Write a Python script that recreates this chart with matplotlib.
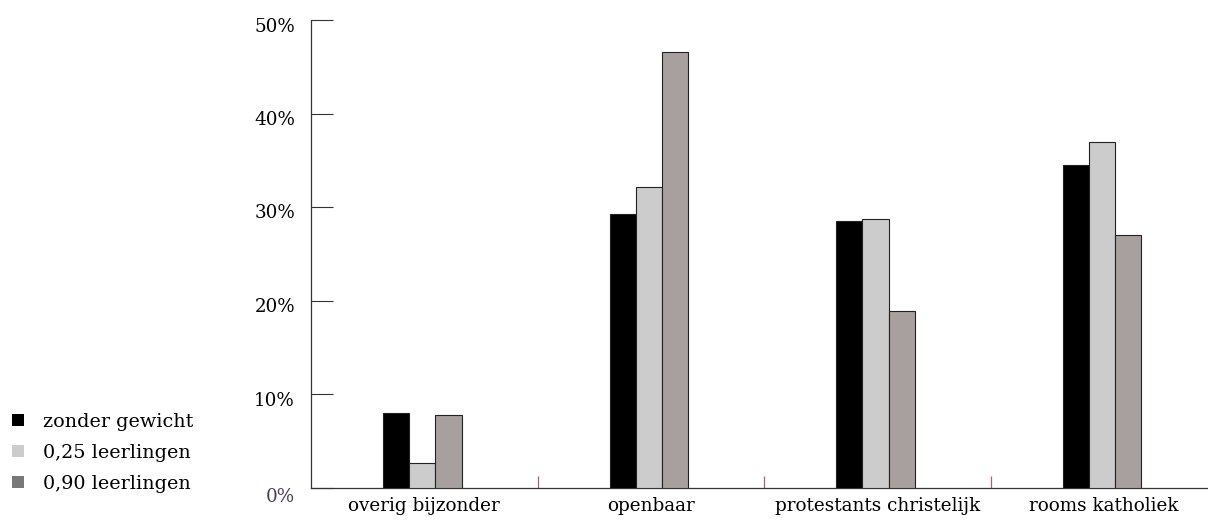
import matplotlib
matplotlib.use("Agg")
import matplotlib.pyplot as plt
import matplotlib.transforms as mtransforms
from matplotlib.patches import Patch
import numpy as np

categories = ["overig bijzonder", "openbaar", "protestants christelijk", "rooms katholiek"]
series_names = ["zonder gewicht", "0,25 leerlingen", "0,90 leerlingen"]
zonder_gewicht = [8.0, 29.2, 28.5, 34.5]
leerlingen_025 = [2.6, 32.1, 28.7, 36.9]
leerlingen_090 = [7.8, 46.6, 18.9, 27.0]
y_ticks = [0, 10, 20, 30, 40, 50]
y_tick_labels = ["0%", "10%", "20%", "30%", "40%", "50%"]

bar_colors = ["#000000", "#cccccc", "#a7a09f"]
legend_colors = ["#000000", "#cccccc", "#787878"]

plt.rcParams['font.family'] = ['DejaVu Serif']

W, H = 1208, 521
fig = plt.figure(figsize=(W / 100, H / 100), dpi=100)
ax_left = 311 / W
ax_bottom = (H - 487.5) / H
ax_top = (H - 20) / H
ax = fig.add_axes([ax_left, ax_bottom, 1 - ax_left, ax_top - ax_bottom])

x = np.arange(len(categories))
w = 0.115
for i, (vals, c) in enumerate(zip([zonder_gewicht, leerlingen_025, leerlingen_090], bar_colors)):
    ax.bar(x + (i - 1) * w - 0.008, vals, width=w, color=c, edgecolor="#222222",
           linewidth=0.8, zorder=3)

ax.set_xlim(-0.5, 3.46)
ax.set_ylim(0, 50)

for s in ["top", "right"]:
    ax.spines[s].set_visible(False)
for s in ["left", "bottom"]:
    ax.spines[s].set_color("#333333")
    ax.spines[s].set_linewidth(0.9)

ax.set_yticks(y_ticks)
ax.set_yticklabels(y_tick_labels, fontsize=13.2)
ax.tick_params(axis="y", direction="in", length=16, width=0.8, color="#333333", pad=11.5)
ylbls = ax.get_yticklabels()
for lbl in ylbls:
    lbl.set_transform(lbl.get_transform() + mtransforms.ScaledTranslation(0, -4.5 / 100, fig.dpi_scale_trans))
ylbls[0].set_color("#4b3a5e")
ylbls[0].set_transform(ylbls[0].get_transform() + mtransforms.ScaledTranslation(0, -2.5 / 100, fig.dpi_scale_trans))

ax.set_xticks(x)
ax.set_xticklabels(categories, fontsize=13.2)
ax.tick_params(axis="x", which="major", length=0, pad=6.5)
ax.set_xticks([0.5, 1.5, 2.5], minor=True)
ax.tick_params(axis="x", which="minor", direction="in", length=9, width=0.9, color="#b05a80")

handles = [Patch(facecolor=c, edgecolor="none") for c in legend_colors]
fig.legend(handles, series_names, loc="center left", bbox_to_anchor=(12 / W, (H - 453) / H),
           frameon=False, fontsize=13.8, handlelength=0.6, handleheight=0.6,
           handletextpad=1.0, labelspacing=0.67, borderaxespad=0, borderpad=0)

fig.savefig("out.png", dpi=100)
